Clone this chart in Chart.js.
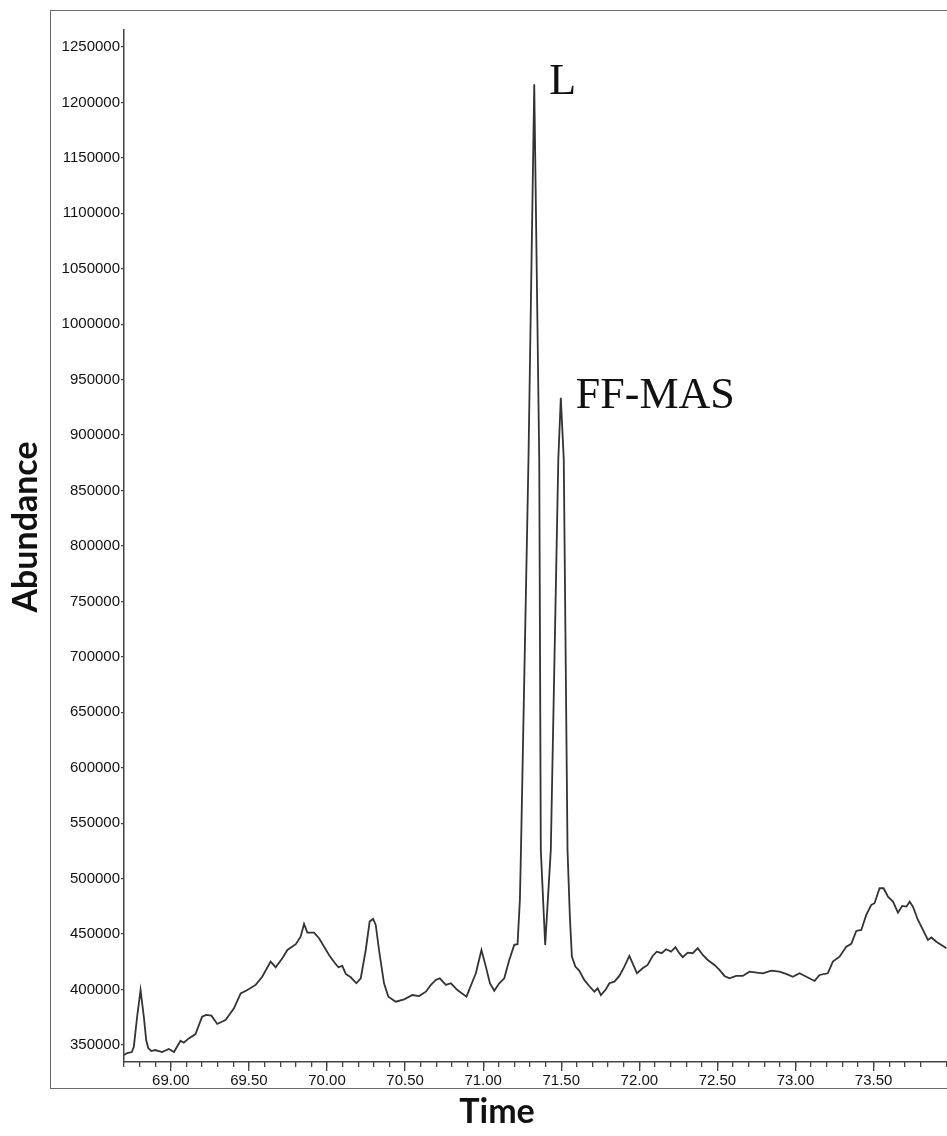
<!DOCTYPE html>
<html>
<head>
<meta charset="utf-8">
<script src="https://cdn.jsdelivr.net/npm/chart.js@4.4.1/dist/chart.umd.min.js"></script>
<style>
  body { margin: 0; background: #fff; }
  #wrap { position: relative; width: 947px; height: 1136px; overflow: hidden; }
  #frame { position: absolute; left: 50px; top: 10px; width: 1000px; height: 1077px; border: 1.5px solid #6a6a6a; }
  #wrap canvas { position: absolute; left: 0; top: 0; }
</style>
</head>
<body>
<div id="wrap">
  <div id="frame"></div>
  <canvas id="chromatogram"></canvas>
</div>
<script>
// retention time (min) and abundance
const times = [
  68.700, 68.720, 68.750, 68.763, 68.784, 68.806, 68.827, 68.842, 68.855, 68.875,
  68.900, 68.944, 68.987, 69.020, 69.062, 69.083, 69.115, 69.158, 69.200, 69.226,
  69.260, 69.297, 69.350, 69.404, 69.447, 69.490, 69.543, 69.585, 69.639, 69.671,
  69.714, 69.746, 69.800, 69.831, 69.853, 69.874, 69.917, 69.949, 70.013, 70.050,
  70.073, 70.098, 70.120, 70.152, 70.188, 70.216, 70.248, 70.273, 70.295, 70.312,
  70.333, 70.365, 70.393, 70.440, 70.494, 70.547, 70.590, 70.633, 70.665, 70.697,
  70.722, 70.761, 70.793, 70.835, 70.893, 70.953, 70.989, 71.017, 71.043, 71.071,
  71.103, 71.135, 71.167, 71.199, 71.220, 71.235, 71.242, 71.290, 71.327, 71.359,
  71.369, 71.397, 71.433, 71.481, 71.497, 71.516, 71.540, 71.555, 71.568, 71.590,
  71.615, 71.647, 71.679, 71.712, 71.733, 71.754, 71.786, 71.808, 71.840, 71.872,
  71.904, 71.936, 71.957, 71.985, 72.021, 72.053, 72.085, 72.111, 72.143, 72.171,
  72.203, 72.231, 72.256, 72.278, 72.310, 72.342, 72.374, 72.406, 72.438, 72.481,
  72.513, 72.545, 72.577, 72.620, 72.662, 72.705, 72.790, 72.845, 72.897, 72.940,
  72.983, 73.026, 73.122, 73.154, 73.207, 73.239, 73.282, 73.325, 73.357, 73.389,
  73.421, 73.453, 73.485, 73.506, 73.538, 73.564, 73.592, 73.624, 73.656, 73.683,
  73.710, 73.731, 73.752, 73.784, 73.816, 73.848, 73.870, 73.902, 73.934, 73.966
];
const abundance = [
  341000, 342800, 343700, 348500, 375500, 399600, 375500, 354500, 347300, 344600,
  345500, 343700, 346400, 343700, 353900, 352100, 356000, 359900, 375500, 377100,
  376500, 369000, 372600, 383100, 396600, 399600, 404200, 411600, 425200, 420100,
  428200, 435700, 440900, 447700, 459200, 451400, 451400, 446300, 431200, 424000,
  420100, 421300, 414100, 411100, 405700, 410200, 435700, 461300, 463700, 458300,
  435700, 405700, 393600, 389100, 391200, 395100, 394200, 398100, 404200, 408700,
  410200, 404200, 405700, 399600, 393600, 414700, 435700, 420700, 405700, 399000,
  405700, 410200, 426700, 440300, 440900, 480900, 526000, 878000, 1216400, 878000,
  526000, 440300, 526000, 878000, 933600, 878000, 526000, 465800, 429700, 420700,
  417100, 408700, 403200, 398100, 401200, 395100, 400300, 405700, 407100, 412300,
  420700, 430300, 423700, 414700, 419200, 422200, 430300, 434200, 432800, 436400,
  434200, 438200, 432800, 429200, 433300, 432800, 437300, 431200, 426700, 422200,
  417700, 412300, 410200, 412300, 412300, 416200, 414700, 417100, 416200, 414100,
  411600, 414700, 407800, 413200, 414700, 425200, 429700, 438700, 441200, 452900,
  453800, 467300, 476400, 477900, 491400, 491400, 483800, 479300, 469400, 475400,
  474800, 479300, 474800, 462800, 453800, 444800, 447000, 443200, 440300, 437300
];

// axis ranges, y tick values and peak labels
const xMin = 68.70, xMax = 73.97;
const yMin = 334700, yMax = 1265300;
const yTicks = [350000, 400000, 450000, 500000, 550000, 600000, 650000, 700000, 750000,
  800000, 850000, 900000, 950000, 1000000, 1050000, 1100000, 1150000, 1200000, 1250000];
const peakNames = ["L", "FF-MAS"];
const peakTimes = [71.327, 71.497];
const peakValues = [1216400, 933600];

const points = times.map((t, i) => ({ x: t, y: abundance[i] }));
const tickFont = { family: "'Liberation Sans', Arial, sans-serif", size: 15 };
const titleFont = "bold 34px Lato, 'Open Sans', sans-serif";

// peak names and the axis titles drawn on the canvas
const labelPlugin = {
  id: "peakLabels",
  afterDraw(chart) {
    const c = chart.ctx;
    const xs = chart.scales.x, ys = chart.scales.y;
    c.save();
    c.fillStyle = "#111";
    c.font = "44px 'Liberation Serif', 'Times New Roman', serif";
    c.textBaseline = "alphabetic";
    peakNames.forEach((name, i) => {
      const px = xs.getPixelForValue(peakTimes[i]);
      const py = ys.getPixelForValue(peakValues[i]);
      c.fillText(name, px + 15, py + 10);
    });
    c.font = titleFont;
    c.textAlign = "center";
    c.textBaseline = "middle";
    c.fillText("Time", 497, 1112);
    c.translate(26, 527);
    c.rotate(-Math.PI / 2);
    c.fillText("Abundance", 0, 0);
    c.restore();
  }
};

new Chart(document.getElementById("chromatogram"), {
  type: "scatter",
  data: {
    datasets: [{
      data: points,
      showLine: true,
      borderColor: "#333",
      borderWidth: 1.8,
      pointRadius: 0,
      tension: 0,
      fill: false
    }]
  },
  options: {
    responsive: true,
    maintainAspectRatio: false,
    animation: false,
    layout: { padding: { top: 30, right: 0, left: 0, bottom: 0 } },
    plugins: { legend: { display: false }, tooltip: { enabled: false } },
    scales: {
      x: {
        type: "linear",
        min: xMin,
        max: xMax,
        afterFit: (s) => { s.height = 74; },
        border: { display: true, color: "#444", width: 1.5 },
        grid: { drawOnChartArea: false, drawTicks: true, tickLength: 9, color: "#444", lineWidth: 1.3 },
        ticks: {
          stepSize: 0.5,
          includeBounds: false,
          maxRotation: 0,
          autoSkip: false,
          padding: 1,
          color: "#111",
          font: tickFont,
          callback: (v) => v.toFixed(2)
        }
      },
      x2: {
        type: "linear",
        min: xMin,
        max: xMax,
        position: { y: yMin },
        border: { display: false },
        grid: { drawOnChartArea: false, drawTicks: true, tickLength: 5, color: "#444", lineWidth: 1.3 },
        ticks: { stepSize: 0.1, autoSkip: false, display: false }
      },
      y: {
        type: "linear",
        min: yMin,
        max: yMax,
        afterFit: (s) => { s.width = 124; },
        afterBuildTicks: (s) => { s.ticks = yTicks.map((v) => ({ value: v })); },
        border: { display: true, color: "#444", width: 1.5 },
        grid: { drawOnChartArea: false, drawTicks: true, tickLength: 3, color: "#444", lineWidth: 1.3 },
        ticks: {
          autoSkip: false,
          padding: 1,
          color: "#111",
          font: tickFont,
          callback: (v) => String(v)
        }
      }
    }
  },
  plugins: [labelPlugin]
});
</script>
</body>
</html>
